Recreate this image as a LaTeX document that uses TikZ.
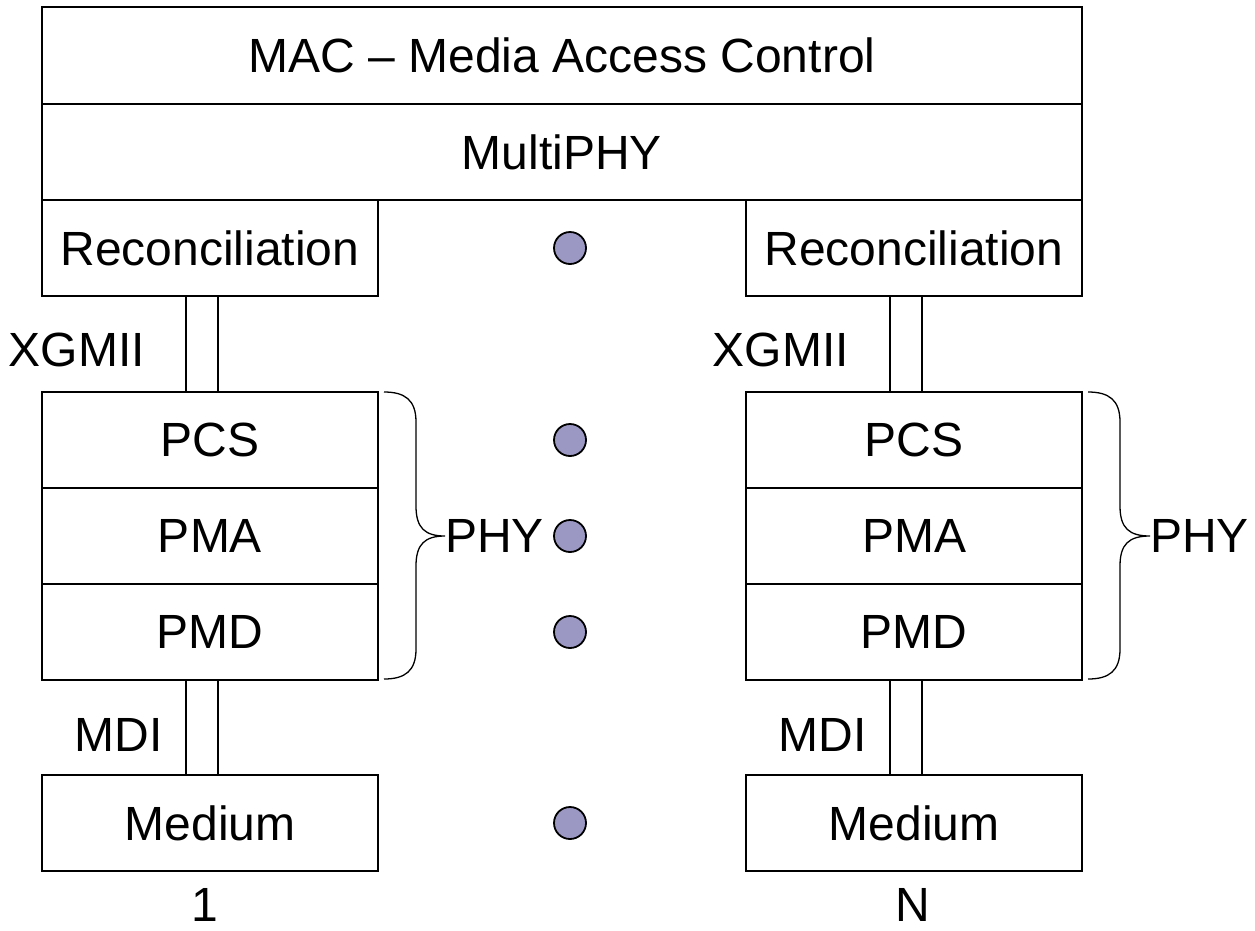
\documentclass[tikz,border=0pt]{standalone}
\usepackage{fontspec}
\setmainfont{Liberation Sans}
\definecolor{dotfill}{RGB}{156,152,196}
\begin{document}
\begin{tikzpicture}[x=1pt,y=-1pt,
  box/.style={draw, line width=2pt, minimum width=336pt, minimum height=96pt, inner sep=0pt, font=\fontsize{48}{58}\selectfont},
  widebox/.style={box, minimum width=1040pt},
  lbl/.style={inner sep=0pt, font=\fontsize{48}{58}\selectfont},
  dotnode/.style={circle, draw, line width=1.8pt, fill=dotfill, minimum size=32pt, inner sep=0pt},
  barline/.style={line width=2pt},
  bracepath/.style={line width=1.3pt}]
\useasboundingbox (0,0) rectangle (1255,930);
% top
\node[widebox, minimum height=97pt] (mac) at (562,55.5) {MAC -- Media Access Control};
\node[widebox] (multi) at (562,152) {MultiPHY};
% left column
\node[box] (recon1) at (210,248) {Reconciliation};
\node[box] (pcs1) at (210,440) {PCS};
\node[box] (pma1) at (210,536) {PMA};
\node[box] (pmd1) at (210,632) {PMD};
\node[box] (med1) at (210,823) {Medium};
% right column
\node[box] (recon2) at (914,248) {Reconciliation};
\node[box] (pcs2) at (914,440) {PCS};
\node[box] (pma2) at (914,536) {PMA};
\node[box] (pmd2) at (914,632) {PMD};
\node[box] (med2) at (914,823) {Medium};
% interface bars
\foreach \s in {-24,8}{
  \draw[barline] ([xshift=\s pt]recon1.south) -- ([xshift=\s pt]pcs1.north);
  \draw[barline] ([xshift=\s pt]pmd1.south) -- ([xshift=\s pt]med1.north);
  \draw[barline] ([xshift=\s pt]recon2.south) -- ([xshift=\s pt]pcs2.north);
  \draw[barline] ([xshift=\s pt]pmd2.south) -- ([xshift=\s pt]med2.north);
}
% labels
\node[lbl, anchor=east] (xg1) at (145,350) {XGMII};
\node[lbl, anchor=east] (xg2) at (849,350) {XGMII};
\node[lbl, anchor=east] (mdi1) at (163,735) {MDI};
\node[lbl, anchor=east] (mdi2) at (867,735) {MDI};
\node[lbl] (n1) at (205,905) {1};
\node[lbl] (nN) at (913,905) {N};
\node[lbl, anchor=west] (phy1) at (445,536) {PHY};
\node[lbl, anchor=west] (phy2) at (1150,536) {PHY};
% braces
\draw[bracepath] (384,392) .. controls (405,392) and (416,400) .. (416,422) -- (416,506)
  .. controls (416,528) and (425,536) .. (phy1.west)
  .. controls (425,536) and (416,544) .. (416,566) -- (416,649)
  .. controls (416,671) and (405,679) .. (384,679);
\draw[bracepath] (1088,392) .. controls (1109,392) and (1120,400) .. (1120,422) -- (1120,506)
  .. controls (1120,528) and (1129,536) .. (phy2.west)
  .. controls (1129,536) and (1120,544) .. (1120,566) -- (1120,649)
  .. controls (1120,671) and (1109,679) .. (1088,679);
% dots
\node[dotnode] (d1) at (570,248) {};
\node[dotnode] (d2) at (570,440) {};
\node[dotnode] (d3) at (570,536) {};
\node[dotnode] (d4) at (570,632) {};
\node[dotnode] (d5) at (570,823) {};
\end{tikzpicture}
\end{document}
